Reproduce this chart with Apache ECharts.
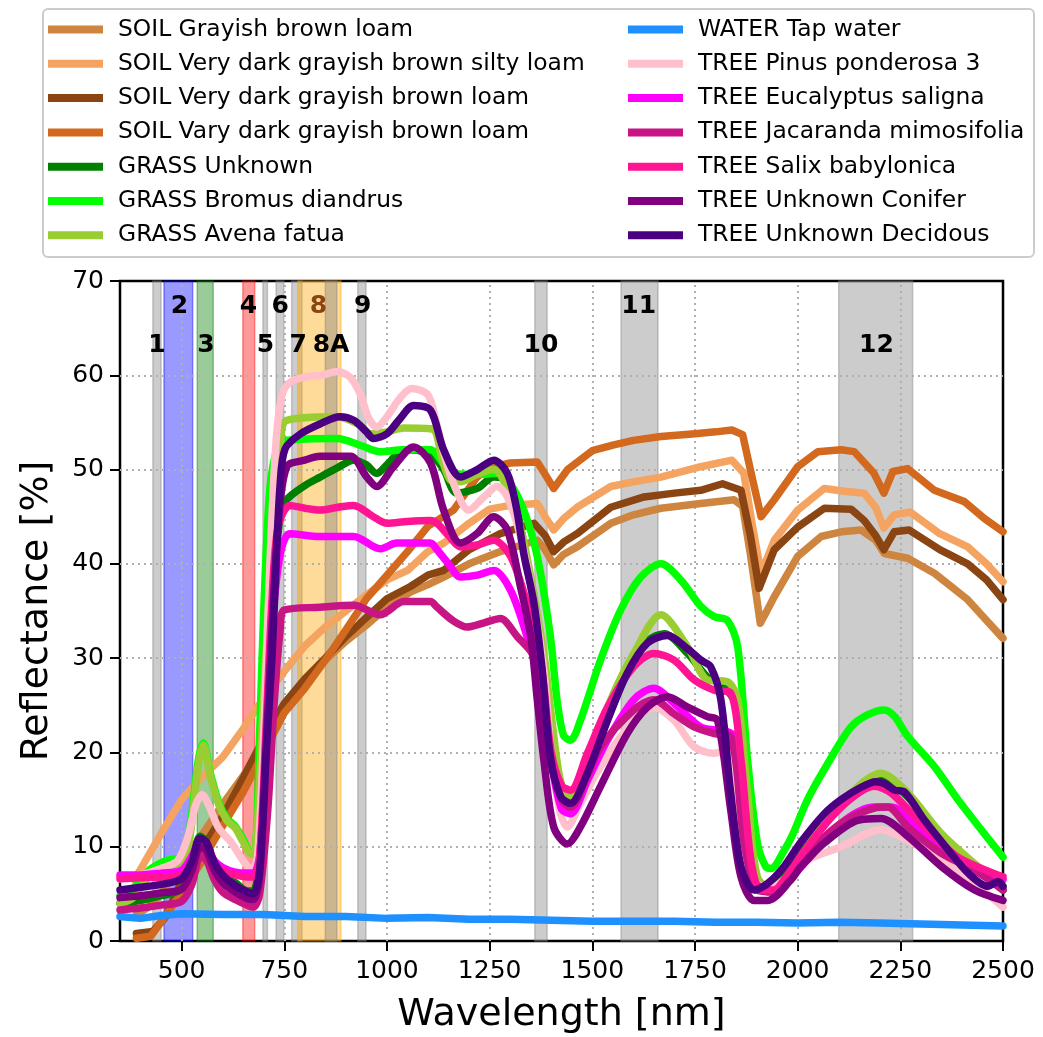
<!DOCTYPE html>
<html>
<head>
<meta charset="utf-8">
<script src="https://cdn.jsdelivr.net/npm/echarts@6/dist/echarts.min.js"></script>
<style>
  html, body { margin: 0; padding: 0; background: #fff; }
  #chart { width: 1043px; height: 1037px; }
</style>
</head>
<body>
<div id="chart"></div>
<script>
// ---- axis ticks ----
const xTicks = [500, 750, 1000, 1250, 1500, 1750, 2000, 2250, 2500];
const yTicks = [0, 10, 20, 30, 40, 50, 60, 70];

// ---- Sentinel-2 band spans [start nm, end nm, fill colour] ----
const bandSpans = [
  [430, 450, 'rgba(128,128,128,0.4)'],
  [457, 527, 'rgba(0,0,255,0.4)'],
  [538, 577, 'rgba(0,128,0,0.4)'],
  [649, 678, 'rgba(255,0,0,0.4)'],
  [698, 709, 'rgba(128,128,128,0.4)'],
  [730, 749, 'rgba(128,128,128,0.4)'],
  [768, 793, 'rgba(128,128,128,0.4)'],
  [783, 888, 'rgba(255,165,0,0.4)'],
  [850, 878, 'rgba(128,128,128,0.4)'],
  [929, 949, 'rgba(128,128,128,0.4)'],
  [1360, 1390, 'rgba(128,128,128,0.4)'],
  [1570, 1660, 'rgba(128,128,128,0.4)'],
  [2100, 2280, 'rgba(128,128,128,0.4)']
];

// ---- band labels ----
const bandLabelText = ['1', '2', '3', '4', '5', '6', '7', '8', '8A', '9', '10', '11', '12'];
const bandLabelX    = [440, 495, 559, 663, 704, 740, 784, 833, 864, 941, 1375, 1613, 2192];
const bandLabelY    = [63.2, 67.3, 63.2, 67.3, 63.2, 67.3, 63.2, 67.3, 63.2, 67.3, 63.2, 67.3, 63.2];
const bandLabelColor = ['#000', '#000', '#000', '#000', '#000', '#000', '#000', '#8B4513', '#000', '#000', '#000', '#000', '#000'];

// ---- spectra: [wavelength nm, reflectance %] ----
const soilGrayishBrownLoam = [[390,2.8],[420,3.6],[450,5.0],[500,8.0],[550,11.3],[600,14.5],[650,17.5],[700,21.0],[750,24.5],[800,27.5],[850,29.8],[900,31.8],[950,33.5],[1000,35.4],[1057,37.0],[1100,37.8],[1138,38.6],[1200,40.0],[1276,41.3],[1366,42.5],[1385,41.5],[1406,39.9],[1430,41.0],[1463,41.8],[1545,44.3],[1600,45.2],[1667,45.9],[1764,46.4],[1845,46.8],[1866,46.1],[1885,41.0],[1909,33.7],[1925,35.0],[1943,36.5],[2000,40.8],[2057,42.9],[2106,43.4],[2154,43.6],[2190,42.5],[2211,41.1],[2268,40.6],[2333,39.0],[2414,36.2],[2460,34.0],[2500,32.1]];

const soilVeryDarkSiltyLoam = [[385,6.5],[400,7.6],[450,11.4],[500,15.0],[550,17.4],[600,19.5],[650,22.5],[700,25.8],[750,28.6],[800,31.3],[850,33.3],[900,35.0],[950,36.7],[1000,38.3],[1050,39.3],[1100,41.3],[1138,42.2],[1200,44.3],[1250,45.8],[1300,46.2],[1366,46.4],[1385,45.0],[1406,43.6],[1430,44.8],[1463,46.0],[1545,48.2],[1600,48.7],[1667,49.2],[1764,50.3],[1840,51.0],[1869,49.6],[1890,44.0],[1911,39.0],[1943,42.5],[2000,45.7],[2065,48.0],[2113,47.7],[2162,47.5],[2190,46.0],[2210,43.8],[2235,45.2],[2274,45.5],[2346,43.2],[2414,41.8],[2460,40.0],[2500,38.1]];

const soilVeryDarkLoam = [[390,0.8],[430,1.0],[460,2.5],[500,6.3],[550,9.8],[600,13.2],[650,17.3],[700,21.5],[750,25.2],[800,27.8],[850,30.0],[900,32.3],[950,34.3],[1000,36.3],[1057,37.6],[1100,38.8],[1138,39.3],[1200,41.5],[1276,43.2],[1358,44.3],[1385,43.0],[1406,41.3],[1430,42.3],[1463,43.2],[1545,46.0],[1626,47.1],[1700,47.5],[1764,47.8],[1817,48.5],[1862,47.8],[1885,43.0],[1906,37.4],[1943,41.5],[2000,43.9],[2065,45.9],[2130,45.8],[2162,44.6],[2190,43.0],[2210,41.5],[2235,43.4],[2271,43.6],[2346,41.5],[2414,40.0],[2460,38.3],[2500,36.2]];

const soilVaryDarkLoam = [[390,0.3],[425,0.5],[450,2.0],[500,5.1],[550,8.5],[600,12.2],[650,15.8],[700,20.0],[750,24.2],[800,26.8],[850,29.8],[900,33.0],[950,36.3],[1000,38.8],[1050,41.3],[1100,44.0],[1162,45.7],[1219,49.2],[1250,50.2],[1300,50.7],[1366,50.8],[1385,49.5],[1406,48.0],[1440,50.0],[1500,52.0],[1550,52.6],[1600,53.1],[1667,53.5],[1750,53.8],[1800,54.0],[1840,54.2],[1866,53.7],[1890,49.0],[1911,45.0],[1943,46.8],[2000,50.3],[2049,51.9],[2106,52.1],[2138,51.9],[2186,49.6],[2210,47.5],[2232,49.8],[2268,50.1],[2333,47.8],[2406,46.6],[2455,44.8],[2500,43.4]];

const grassUnknown = [[350,4.0],[400,4.3],[450,4.8],[500,5.5],[525,8.0],[545,11.1],[560,10.5],[580,8.0],[600,6.8],[630,6.2],[660,5.3],[675,5.3],[690,9.0],[705,22.0],[720,36.0],[740,45.0],[756,46.8],[800,48.3],[837,49.2],[880,50.2],[919,51.0],[950,50.5],[975,49.6],[1000,50.5],[1041,52.1],[1080,52.0],[1110,51.5],[1138,50.0],[1170,47.5],[1220,48.0],[1260,49.2],[1293,48.8],[1315,46.0],[1340,40.5],[1360,35.0],[1380,28.0],[1400,20.0],[1423,15.5],[1447,15.0],[1488,18.0],[1537,23.5],[1585,28.5],[1634,31.8],[1675,32.6],[1732,30.5],[1780,28.0],[1813,27.3],[1850,25.0],[1875,14.0],[1900,6.0],[1927,5.5],[1967,7.5],[2024,10.8],[2106,14.8],[2203,17.2],[2268,15.3],[2350,11.1],[2431,7.9],[2500,5.4]];

const grassBromusDiandrus = [[350,4.8],[380,5.5],[420,7.5],[460,8.5],[500,9.0],[520,12.0],[540,19.0],[553,21.0],[570,17.8],[590,14.8],[610,13.0],[630,12.2],[650,10.8],[670,9.3],[680,9.5],[690,22.0],[700,35.0],[715,48.0],[735,52.5],[756,53.1],[878,53.3],[940,52.5],[983,51.9],[1041,52.1],[1106,52.1],[1140,50.5],[1180,49.5],[1230,49.5],[1270,49.6],[1300,48.5],[1333,45.7],[1366,40.8],[1398,32.3],[1414,25.6],[1430,21.8],[1447,21.3],[1471,23.4],[1520,29.8],[1569,35.1],[1618,38.6],[1667,40.0],[1715,38.3],[1764,35.5],[1797,34.4],[1829,34.0],[1854,31.2],[1878,19.2],[1902,10.4],[1922,7.9],[1935,7.7],[1967,9.6],[1990,11.5],[2024,15.0],[2073,18.8],[2130,22.7],[2171,24.0],[2211,24.5],[2236,23.8],[2268,21.7],[2333,18.5],[2390,15.0],[2447,11.8],[2500,8.9]];

const grassAvenaFatua = [[350,4.0],[380,4.5],[420,6.8],[460,7.8],[500,8.3],[520,11.0],[540,18.5],[553,20.8],[570,17.5],[590,14.5],[610,12.8],[630,12.0],[650,10.5],[670,9.2],[680,9.5],[700,26.0],[720,42.0],[740,52.0],[755,55.2],[880,55.6],[930,54.8],[960,53.8],[1000,54.0],[1041,54.4],[1110,54.3],[1135,51.0],[1154,48.9],[1179,48.7],[1220,49.5],[1260,50.0],[1301,47.1],[1330,43.0],[1350,38.6],[1382,30.5],[1400,24.0],[1420,17.5],[1440,15.2],[1470,16.5],[1504,20.6],[1545,25.6],[1601,30.5],[1667,34.6],[1732,31.2],[1780,27.7],[1829,27.5],[1854,25.6],[1878,15.7],[1902,6.8],[1943,5.4],[2024,10.0],[2106,14.6],[2203,17.8],[2268,15.7],[2350,11.4],[2431,8.2],[2500,5.8]];

const waterTap = [[350,2.6],[375,2.5],[400,2.4],[450,2.7],[500,2.9],[600,2.8],[700,2.8],[800,2.6],[900,2.6],[1000,2.4],[1100,2.5],[1200,2.3],[1300,2.3],[1400,2.2],[1500,2.1],[1600,2.1],[1700,2.1],[1800,2.0],[1900,2.0],[2000,1.9],[2100,2.0],[2200,1.9],[2300,1.8],[2400,1.7],[2500,1.6]];

const treePinusPonderosa = [[350,6.6],[400,7.0],[450,7.7],[490,8.5],[515,11.0],[535,14.5],[550,15.5],[565,14.5],[590,12.0],[620,10.5],[650,8.5],[670,7.5],[685,9.0],[700,22.0],[715,40.0],[730,53.0],[745,58.0],[765,59.3],[800,59.8],[840,60.0],[880,60.4],[910,59.8],[935,58.0],[955,55.5],[975,54.5],[1000,55.6],[1030,57.5],[1060,58.6],[1100,57.9],[1120,55.0],[1140,51.5],[1165,48.2],[1199,45.7],[1236,47.1],[1268,48.2],[1293,47.1],[1325,42.9],[1358,35.8],[1382,28.7],[1400,20.0],[1420,14.0],[1439,12.1],[1470,14.5],[1520,18.5],[1601,23.4],[1650,24.8],[1699,23.4],[1748,20.6],[1797,19.9],[1837,20.6],[1862,12.1],[1894,6.5],[1930,5.5],[1980,7.0],[2024,8.6],[2106,10.0],[2203,11.8],[2268,10.7],[2350,8.6],[2420,6.5],[2500,3.6]];

const treeEucalyptusSaligna = [[350,7.0],[400,7.0],[450,7.2],[500,7.5],[525,9.0],[545,10.5],[560,10.0],[580,8.5],[600,7.8],[630,7.3],[660,7.2],[675,7.2],[690,9.0],[705,20.0],[720,33.0],[740,41.0],[764,43.2],[837,42.9],[919,42.9],[983,41.6],[1024,42.2],[1106,42.2],[1122,41.5],[1150,40.0],[1179,38.6],[1220,38.8],[1260,39.3],[1301,37.2],[1341,32.3],[1374,27.0],[1400,19.0],[1425,14.0],[1447,13.5],[1488,17.0],[1537,21.3],[1601,25.6],[1650,26.8],[1699,25.2],[1764,22.7],[1845,21.7],[1870,12.1],[1894,6.5],[1930,5.2],[1970,6.2],[2024,8.6],[2106,12.5],[2187,14.2],[2228,14.2],[2309,11.1],[2390,8.6],[2500,6.5]];

const treeJacarandaMimosifolia = [[350,3.3],[400,3.5],[450,3.8],[500,4.2],[525,6.0],[545,9.0],[560,8.6],[580,6.5],[600,5.2],[630,4.4],[660,3.8],[675,3.6],[690,5.0],[710,14.0],[725,25.0],[740,33.0],[750,35.1],[837,35.4],[919,35.6],[983,34.6],[1041,36.0],[1106,36.0],[1122,35.4],[1160,34.0],[1195,33.3],[1240,33.8],[1276,34.2],[1317,32.3],[1358,30.2],[1375,27.0],[1400,19.0],[1425,15.0],[1447,14.2],[1488,17.5],[1520,20.6],[1601,24.5],[1650,25.6],[1699,24.1],[1748,22.7],[1797,22.0],[1837,21.7],[1870,10.4],[1902,5.4],[1943,5.2],[2024,9.3],[2106,12.5],[2187,14.1],[2219,14.2],[2268,12.1],[2350,9.3],[2431,7.5],[2500,5.4]];

const treeSalixBabylonica = [[350,6.6],[400,6.7],[450,6.8],[500,7.0],[525,8.5],[545,10.0],[560,9.5],[580,8.0],[600,7.5],[630,7.0],[660,6.8],[675,6.8],[690,9.0],[705,22.0],[720,36.0],[735,44.0],[764,46.2],[800,45.9],[837,45.7],[880,46.0],[919,46.2],[967,45.0],[1000,44.3],[1050,44.5],[1106,44.6],[1122,44.3],[1150,43.0],[1179,41.8],[1220,42.0],[1260,42.5],[1301,40.8],[1341,35.8],[1374,29.8],[1400,20.0],[1425,16.5],[1447,16.0],[1488,19.9],[1537,24.8],[1601,29.1],[1650,30.5],[1699,29.8],[1748,27.7],[1797,26.6],[1837,26.3],[1862,19.2],[1886,8.6],[1910,5.4],[1943,5.4],[1967,6.5],[2024,10.0],[2106,14.2],[2187,16.4],[2228,15.7],[2309,12.1],[2390,8.9],[2500,6.8]];

const treeUnknownConifer = [[350,4.6],[400,4.8],[450,5.1],[500,5.5],[525,7.5],[545,10.0],[560,9.6],[580,7.5],[600,6.2],[630,5.2],[660,4.5],[675,4.4],[690,7.0],[705,20.0],[720,33.0],[735,44.0],[756,50.3],[800,51.0],[837,51.4],[911,51.4],[951,49.2],[975,48.2],[1016,50.3],[1065,52.4],[1106,50.7],[1138,45.7],[1179,42.2],[1219,43.2],[1260,45.0],[1293,43.6],[1325,37.6],[1350,32.3],[1366,25.6],[1382,19.2],[1406,12.1],[1439,10.3],[1471,12.1],[1520,16.4],[1585,22.0],[1634,24.8],[1683,25.9],[1732,24.8],[1780,23.8],[1805,23.4],[1837,13.9],[1862,6.8],[1894,4.3],[1927,4.3],[1984,6.5],[2008,7.9],[2065,10.4],[2146,12.8],[2203,13.0],[2268,11.1],[2350,7.9],[2431,5.4],[2500,4.3]];

const treeUnknownDecidous = [[350,5.4],[400,5.7],[450,6.0],[500,6.6],[525,8.5],[545,10.9],[560,10.5],[580,8.3],[600,7.0],[630,5.9],[660,5.2],[675,5.0],[690,7.5],[707,20.6],[720,30.0],[730,40.0],[740,48.5],[752,52.2],[790,53.8],[840,54.9],[885,55.6],[920,55.2],[950,54.0],[967,53.3],[1000,53.8],[1030,55.3],[1065,56.8],[1106,56.3],[1138,52.1],[1179,49.2],[1220,50.0],[1260,51.0],[1293,49.6],[1315,46.0],[1333,41.1],[1358,35.8],[1378,28.7],[1398,19.5],[1423,15.3],[1447,14.6],[1488,17.8],[1537,23.4],[1585,28.4],[1634,31.6],[1683,32.4],[1732,31.0],[1764,29.8],[1788,29.1],[1813,25.6],[1837,15.7],[1862,7.9],[1894,5.4],[1927,6.1],[1967,7.9],[2008,10.5],[2065,13.5],[2106,15.0],[2150,16.2],[2190,16.9],[2211,16.7],[2236,16.0],[2260,15.8],[2309,12.8],[2366,9.7],[2415,7.2],[2463,5.8],[2488,6.3],[2500,5.8]];

// ---- series definitions (drawing order) ----
const spectra = [
  { name: 'SOIL Grayish brown loam', data: soilGrayishBrownLoam, color: '#CD853F', smooth: false },
  { name: 'SOIL Very dark grayish brown silty loam', data: soilVeryDarkSiltyLoam, color: '#F4A460', smooth: false },
  { name: 'SOIL Very dark grayish brown loam', data: soilVeryDarkLoam, color: '#8B4513', smooth: false },
  { name: 'SOIL Vary dark grayish brown loam', data: soilVaryDarkLoam, color: '#D2691E', smooth: false },
  { name: 'GRASS Unknown', data: grassUnknown, color: '#008000', smooth: 0.3 },
  { name: 'GRASS Bromus diandrus', data: grassBromusDiandrus, color: '#00FF00', smooth: 0.3 },
  { name: 'GRASS Avena fatua', data: grassAvenaFatua, color: '#9ACD32', smooth: 0.3 },
  { name: 'WATER Tap water', data: waterTap, color: '#1E90FF', smooth: false },
  { name: 'TREE Pinus ponderosa 3', data: treePinusPonderosa, color: '#FFC0CB', smooth: 0.3 },
  { name: 'TREE Eucalyptus saligna', data: treeEucalyptusSaligna, color: '#FF00FF', smooth: 0.3 },
  { name: 'TREE Jacaranda mimosifolia', data: treeJacarandaMimosifolia, color: '#C71585', smooth: 0.3 },
  { name: 'TREE Salix babylonica', data: treeSalixBabylonica, color: '#FF1493', smooth: 0.3 },
  { name: 'TREE Unknown Conifer', data: treeUnknownConifer, color: '#800080', smooth: 0.3 },
  { name: 'TREE Unknown Decidous', data: treeUnknownDecidous, color: '#4B0082', smooth: 0.3 }
];

const FONT = 'DejaVu Sans';
const legendLeft = spectra.slice(0, 7).map(s => s.name);
const legendRight = spectra.slice(7).map(s => s.name);

function legendBlock(names, left) {
  return {
    data: names,
    orient: 'vertical',
    left: left,
    top: 16.5,
    padding: 0,
    itemWidth: 55,
    itemHeight: 8,
    itemGap: 8.3,
    icon: 'rect',
    selectedMode: false,
    textStyle: { fontFamily: FONT, fontSize: 23.4, color: '#000', lineHeight: 26, padding: [0, 0, 0, 10] }
  };
}

const chart = echarts.init(document.getElementById('chart'), null, { renderer: 'canvas' });

const series = [];

// band shading
series.push({
  name: '_bands',
  type: 'line',
  data: [],
  silent: true,
  markArea: {
    silent: true,
    z: 1,
    data: bandSpans.map(b => [
      { xAxis: b[0], itemStyle: { color: b[2], borderColor: b[2], borderWidth: 1.5 } },
      { xAxis: b[1] }
    ])
  }
});

// dotted grid lines
series.push({
  name: '_grid',
  type: 'line',
  data: [],
  silent: true,
  markLine: {
    silent: true,
    z: 2,
    symbol: 'none',
    label: { show: false },
    lineStyle: { color: '#b0b0b0', width: 2, type: [2, 4] },
    data: xTicks.filter(v => v < 2500).map(v => ({ xAxis: v }))
      .concat(yTicks.filter(v => v > 0 && v < 70).map(v => ({ yAxis: v })))
  }
});

spectra.forEach(s => {
  series.push({
    name: s.name,
    type: 'line',
    data: s.data,
    color: s.color,
    showSymbol: false,
    symbol: 'none',
    smooth: s.smooth,
    z: 3,
    lineStyle: { width: 7.5, color: s.color, cap: 'round', join: 'round' },
    emphasis: { disabled: true }
  });
});

// band numbers
series.push({
  name: '_bandLabels',
  type: 'scatter',
  z: 5,
  symbolSize: 1,
  itemStyle: { color: 'rgba(0,0,0,0)', opacity: 1 },
  silent: true,
  data: bandLabelText.map((t, i) => ({
    value: [bandLabelX[i], bandLabelY[i]],
    label: { color: bandLabelColor[i] },
    name: t
  })),
  label: {
    show: true,
    position: 'inside',
    color: '#000',
    opacity: 1,
    textBorderWidth: 0,
    formatter: p => p.name,
    fontFamily: FONT,
    fontWeight: 'bold',
    fontSize: 25
  }
});

chart.setOption({
  animation: false,
  backgroundColor: '#fff',
  grid: {
    left: 120, right: 40, top: 281, bottom: 96,
    containLabel: false,
    outerBoundsMode: 'none',
    show: true,
    borderColor: '#000',
    borderWidth: 2.5,
    backgroundColor: 'rgba(0,0,0,0)'
  },
  legend: [legendBlock(legendLeft, 48), legendBlock(legendRight, 628)],
  graphic: [{
    type: 'rect',
    left: 42, top: 8,
    shape: { width: 991, height: 248, r: 5 },
    style: { fill: 'rgba(0,0,0,0)', stroke: '#cccccc', lineWidth: 2 },
    silent: true,
    z: -1
  }],
  xAxis: {
    type: 'value',
    min: 350,
    max: 2500,
    name: 'Wavelength [nm]',
    nameLocation: 'middle',
    nameGap: 55,
    nameTextStyle: { fontFamily: FONT, fontSize: 38, color: '#000' },
    axisLine: { show: false },
    axisTick: { show: true, length: 10, lineStyle: { color: '#000', width: 2 }, customValues: xTicks },
    axisLabel: { fontFamily: FONT, fontSize: 25, color: '#000', margin: 18, customValues: xTicks, formatter: v => String(v) },
    splitLine: { show: false }
  },
  yAxis: {
    type: 'value',
    min: 0,
    max: 70,
    interval: 10,
    name: 'Reflectance [%]',
    nameLocation: 'middle',
    nameRotate: 90,
    nameGap: 64,
    nameTextStyle: { fontFamily: FONT, fontSize: 38, color: '#000' },
    axisLine: { show: false },
    axisTick: { show: true, length: 10, lineStyle: { color: '#000', width: 2 } },
    axisLabel: { fontFamily: FONT, fontSize: 25, color: '#000', margin: 16, formatter: v => String(v) },
    splitLine: { show: false }
  },
  series: series
});
</script>
</body>
</html>
